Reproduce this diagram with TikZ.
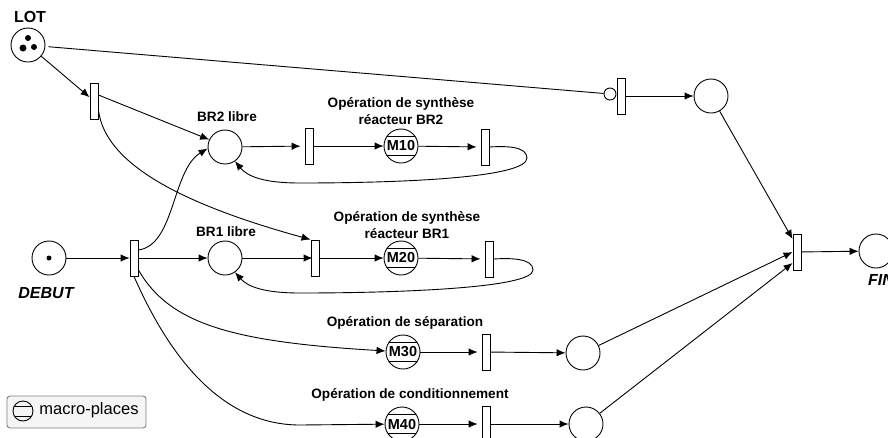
\documentclass[tikz,border=0pt]{standalone}
\usepackage{fontspec}
\setmainfont{Liberation Sans}
\usetikzlibrary{arrows.meta}
\usetikzlibrary{positioning}
\definecolor{legendfill}{HTML}{F5F5F5}
\definecolor{legendline}{HTML}{808080}
\tikzset{circ/.style = {fill, circle, inner sep = 0, minimum size = 6}}
\tikzset{place/.style = {draw, circle, fill = white, inner sep = 0, minimum size = 34}}
\tikzset{macro/.style = {place, font = \fontsize{14.5}{16}\selectfont\bfseries, path picture = {
      \draw ([yshift = 10]path picture bounding box.west) -- ([yshift = 10]path picture bounding box.east);
      \draw ([yshift = -9]path picture bounding box.west) -- ([yshift = -9]path picture bounding box.east);
    }}}
\tikzset{mini/.style = {draw, circle, inner sep = 0, minimum size = 20, path picture = {
      \draw ([yshift = 5]path picture bounding box.west) -- ([yshift = 5]path picture bounding box.east);
      \draw ([yshift = -5]path picture bounding box.west) -- ([yshift = -5]path picture bounding box.east);
    }}}
\tikzset{trans/.style = {draw, rectangle, fill = white, inner sep = 0, minimum width = 8, minimum height = 36}}
\tikzset{inhib/.style = {draw, circle, fill = white, inner sep = 0, minimum size = 12}}
\tikzset{lbl/.style = {font = \fontsize{13.6}{17}\selectfont\bfseries, align = center, inner sep = 0}}
\tikzset{lblit/.style = {font = \fontsize{16}{18}\selectfont\bfseries\itshape, inner sep = 0}}
\tikzset{arc/.style = {-{Latex[length = 9, width = 7.5]}, line width = 0.9}}
\tikzset{gap/.style = {shorten >= 4}}

\begin{document}
\begin{tikzpicture}[x=1pt, y=-1pt, line width=0.9]
    \useasboundingbox (0, 0) rectangle (888, 437);
    \clip (0, 0) rectangle (888, 437);
    % places
    \node [place] (lot) at (28, 45) {};
    \node [place] (debut) at (49, 258) {};
    \node [place] (brdeux) at (225, 147) {};
    \node [place] (brun) at (225, 258) {};
    \node [place] (attente) at (711, 96) {};
    \node [place] (sep) at (583, 353) {};
    \node [place] (cond) at (586, 424) {};
    \node [place] (fin) at (876, 251) {};
    % macro-places
    \node [macro] (mdix) at (401, 146) {M10};
    \node [macro] (mvingt) at (401, 258) {M20};
    \node [macro] (mtrente) at (403, 352) {M30};
    \node [macro] (mquarante) at (402, 424) {M40};
    % transitions
    \node [trans] (tlot) at (94, 101) {};
    \node [trans] (tdebut) at (134, 258) {};
    \node [trans] (tbrdeux) at (309, 146) {};
    \node [trans] (tbrun) at (315, 258) {};
    \node [trans] (tdix) at (485, 147) {};
    \node [trans] (tvingt) at (489, 259) {};
    \node [trans] (ttrente) at (486, 352) {};
    \node [trans] (tquarante) at (486, 424) {};
    \node [trans] (tattente) at (621, 96) {};
    \node [trans] (tfin) at (797, 252) {};
    \node [inhib] (inh) at (610, 94) {};
    % tokens
    \node [circ] (jetona) at (28, 38) {};
    \node [circ, minimum size = 7] (jetonb) at (23, 48) {};
    \node [circ] (jetonc) at (34, 47) {};
    \node [circ, minimum size = 5] (jetond) at (49, 258) {};
    % labels
    \node [lbl, font = \fontsize{16}{18}\selectfont\bfseries] (tlabel) at (30, 17) {LOT};
    \node [lblit] (dlabel) at (46, 293) {DEBUT};
    \node [lblit] (flabel) at (881, 280) {FIN};
    \node [lbl] (brdlabel) at (227, 117) {BR2 libre};
    \node [lbl] (brulabel) at (226, 232) {BR1 libre};
    \node [lbl] (opa) at (401, 111) {Opération de synthèse\\réacteur BR2};
    \node [lbl] (opb) at (407, 225) {Opération de synthèse\\réacteur BR1};
    \node [lbl] (opc) at (405, 323) {Opération de séparation};
    \node [lbl] (opd) at (410, 395) {Opération de conditionnement};
    % arcs
    \draw [shorten <= 3] (lot) -- (inh);
    \draw [arc] (lot) -- (tlot);
    \draw [arc] ([yshift = 6]tlot.east) -- (brdeux.155);
    \draw [arc] ([yshift = -9]tlot.east) .. controls (105, 165) and (185, 205) .. (tbrun.north west);
    \draw [arc] (debut) -- (tdebut);
    \draw [arc] ([yshift = 8]tdebut.east) .. controls (175, 245) and (172, 170) .. (brdeux.185);
    \draw [arc] (tdebut) -- (brun);
    \draw [arc, shorten >= -2] (brun) -- (tbrun);
    \draw [arc] ([yshift = -12]tdebut.east) .. controls (170, 325) and (235, 342) .. (mtrente);
    \draw [arc] (tdebut.south) .. controls (160, 335) and (210, 425) .. (300, 425) -- (mquarante);
    \draw [arc, gap] (brdeux) -- (tbrdeux);
    \draw [arc] (tbrdeux) -- (mdix);
    \draw [arc, gap] (mdix) -- (tdix);
    \draw [arc] (tbrun) -- (mvingt);
    \draw [arc, gap] (mvingt) -- (tvingt);
    \draw [arc, gap] (mtrente) -- (ttrente);
    \draw [arc, gap] (mquarante) -- (tquarante);
    \draw [arc] (ttrente) -- (sep);
    \draw [arc] (tquarante) -- (cond);
    \draw [arc] (tattente) -- (attente);
    \draw [arc] (tdix.east) .. controls (505, 146) and (527, 146) .. (527, 158)
      .. controls (527, 178) and (400, 183) .. (300, 183)
      .. controls (265, 183) and (248, 177) .. (brdeux.-55);
    \draw [arc] (tvingt.east) .. controls (510, 258) and (533, 258) .. (533, 270)
      .. controls (533, 288) and (400, 293) .. (300, 293)
      .. controls (265, 293) and (248, 287) .. (brun.-55);
    \draw [arc] (attente) -- ([yshift = 13]tfin.west);
    \draw [arc] (sep) -- (tfin.west);
    \draw [arc] (cond) -- ([yshift = -11]tfin.west);
    \draw [arc] (tfin) -- (fin);
    % legend
    \node [draw = legendline, fill = legendfill, rounded corners = 3, minimum width = 139, minimum height = 32, inner sep = 0] (legend) at (76.5, 412) {};
    \node [mini] (legendm) at (23, 411) {};
    \node [inner sep = 0, font = \fontsize{16.5}{18}\selectfont] (legendt) at (89, 410) {macro-places};
\end{tikzpicture}
\end{document}
